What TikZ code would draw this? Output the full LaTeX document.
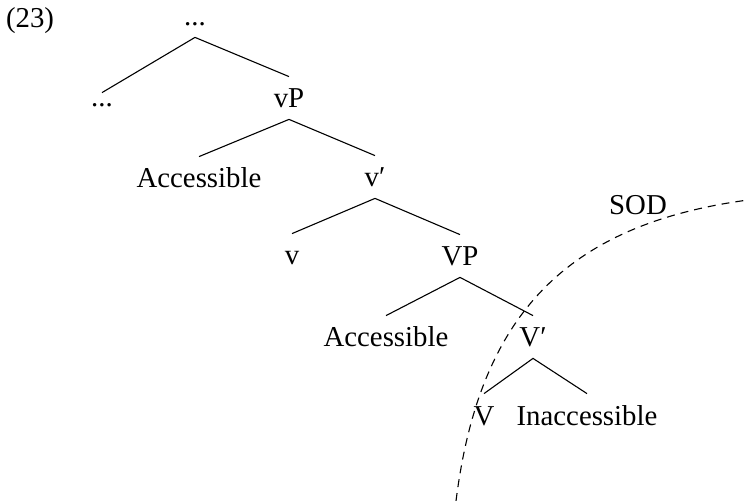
\documentclass[tikz,border=0pt]{standalone}
\usepackage{fontspec}
\setmainfont{Liberation Serif}
\begin{document}
\begin{tikzpicture}[x=0.5pt,y=-0.5pt,
  lab/.style={anchor=base,inner xsep=1pt,inner ysep=5.5pt,font=\fontsize{14.4}{17}\selectfont},
  tn/.style={lab,text height=10pt,text depth=0pt},
  dn/.style={lab,text depth=0pt},
  edge/.style={line width=0.55pt},
  sod/.style={line width=0.55pt,dash pattern=on 4pt off 3pt}]
\useasboundingbox (0,0) rectangle (748,501);
\node[lab] (ex) at (30,28) {(23)};
\node[dn] (top) at (195,26) {...};
\node[dn] (dl) at (102,107) {...};
\node[tn] (vP) at (289,108) {vP};
\node[tn] (acc1) at (199,188) {Accessible};
\node[tn] (vbar) at (375,187) {v′};
\node[tn] (v) at (292,265) {v};
\node[tn] (VP) at (460,266) {VP};
\node[tn] (acc2) at (386,347) {Accessible};
\node[tn] (Vbar) at (533,347) {V′};
\node[tn] (V) at (484,425) {V};
\node[tn] (inacc) at (587,425) {Inaccessible};
\node[lab] (sodl) at (638,215) {SOD};
\draw[edge] (dl.north) -- (top.south) -- (vP.north);
\draw[edge] (acc1.north) -- (vP.south) -- (vbar.north);
\draw[edge] (v.north) -- (vbar.south) -- (VP.north);
\draw[edge] (acc2.north) -- (VP.south) -- (Vbar.north);
\draw[edge] (V.north) -- (Vbar.south) -- (inacc.north);
\coordinate (s0) at (456,501);
\coordinate (s1) at (748,200);
\draw[sod] (s0) .. controls (479,318) and (563,225) .. (s1);
\end{tikzpicture}
\end{document}
